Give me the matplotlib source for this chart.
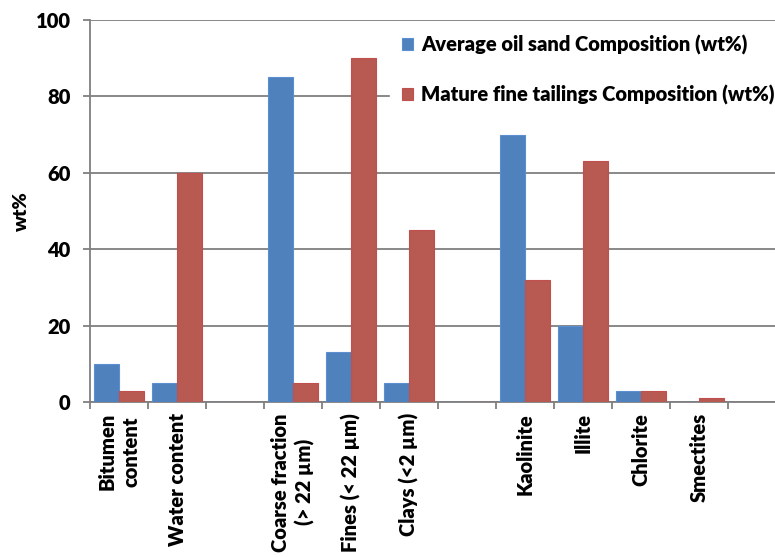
import numpy as np
import matplotlib.pyplot as plt

plt.rcParams['font.family'] = 'Lato'
plt.rcParams['font.weight'] = 'heavy'

# categories; empty strings are the spacer slots between groups
categories = ['Bitumen\ncontent', 'Water content', '',
              'Coarse fraction\n(> 22 \u00b5m)', 'Fines (< 22 \u00b5m)', 'Clays (<2 \u00b5m)', '',
              'Kaolinite', 'Illite', 'Chlorite', 'Smectites']
oil_sand = [10, 5, 0, 85, 13, 5, 0, 70, 20, 3, 0]
mft = [3, 60, 0, 5, 90, 45, 0, 32, 63, 3, 1]
yticks = [0, 20, 40, 60, 80, 100]

blue = '#4F81BD'
red = '#B85A52'
grey = '#7F7F7F'

fig = plt.figure(figsize=(7.75, 5.57), dpi=100)
ax = fig.add_axes([90 / 775, 155 / 557, 685 / 775, 382 / 557])

x = np.arange(len(categories))
w = 0.43
ax.bar(x - w / 2, oil_sand, w, color=blue, edgecolor='#5B8FD0', linewidth=0.8,
       label='Average oil sand Composition (wt%)', zorder=3)
ax.bar(x + w / 2, mft, w, color=red, edgecolor='#C0504D', linewidth=0.8,
       label='Mature fine tailings Composition (wt%)', zorder=3)

ax.set_xlim(-0.5, 11.31)
ax.set_ylim(0, 100)
ax.set_yticks(yticks)
ax.set_yticklabels([str(v) for v in yticks], fontsize=14.5, fontweight='heavy')
ax.yaxis.grid(True, color=grey, linewidth=1.3, zorder=0)
ax.tick_params(axis='y', length=5, width=1.3, color=grey, pad=9)

# category labels sit between the boundary ticks
ax.set_xticks(np.arange(0, 12) - 0.5)
ax.set_xticklabels([])
ax.set_xticks(x, minor=True)
ax.set_xticklabels(categories, minor=True, rotation=90, fontsize=14.5,
                   fontweight='heavy', va='top', ha='center', multialignment='center',
                   linespacing=1.35)
ax.tick_params(axis='x', which='major', length=5, color=grey, width=1.3)
ax.tick_params(axis='x', which='minor', length=0, pad=8)

for side in ['top', 'right']:
    ax.spines[side].set_visible(False)
for side in ['left', 'bottom']:
    ax.spines[side].set_color(grey)
    ax.spines[side].set_linewidth(1.3)

ax.set_ylabel('wt%', fontsize=14, fontweight='heavy', labelpad=4)

leg = ax.legend(loc='upper left', bbox_to_anchor=(290 / 685, 1.02), frameon=True,
                fancybox=False, edgecolor='white', framealpha=1,
                prop={'family': 'Lato', 'weight': 'heavy', 'size': 14.5},
                handlelength=0.55, handleheight=0.55, handletextpad=0.4,
                labelspacing=1.5, borderpad=0.6)
leg.set_zorder(5)

fig.savefig('out.png', dpi=100)
